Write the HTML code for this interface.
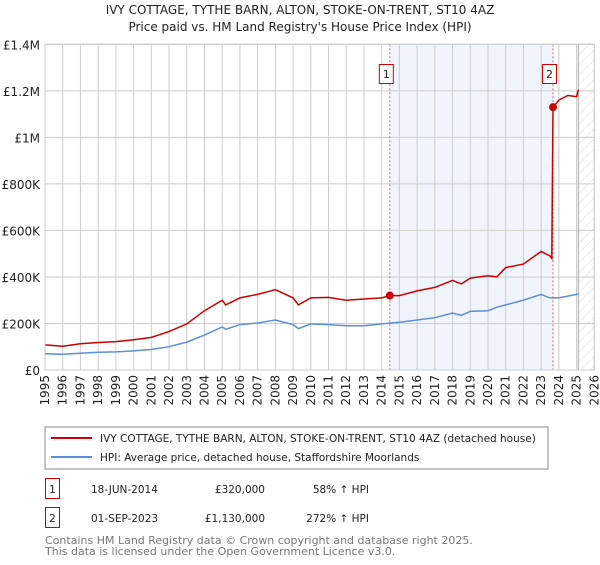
<!DOCTYPE html>
<html><head><meta charset="utf-8"><style>
body{margin:0;background:#fff;font-family:"Liberation Sans","DejaVu Sans",sans-serif;}
svg text{font-family:"DejaVu Sans","Liberation Sans",sans-serif;}
</style></head><body>
<svg id="c" width="600" height="560" xmlns="http://www.w3.org/2000/svg">
<defs><pattern id="hatch" width="7" height="7" patternUnits="userSpaceOnUse" patternTransform="rotate(45)"><line x1="0" y1="0" x2="0" y2="7" stroke="#d4d4d4" stroke-width="0.8"/></pattern></defs>
<text x="300" y="14" text-anchor="middle" font-size="12" fill="#222">IVY COTTAGE, TYTHE BARN, ALTON, STOKE-ON-TRENT, ST10 4AZ</text>
<text x="300" y="31" text-anchor="middle" font-size="12" fill="#222">Price paid vs. HM Land Registry's House Price Index (HPI)</text>
<g id="plot"></g>
<rect x="45" y="427" width="503" height="42" fill="#fff" stroke="#888"/>
<line x1="51" y1="438" x2="92" y2="438" stroke="#cc0000" stroke-width="2"/>
<text x="100" y="442" font-size="10.5" fill="#222">IVY COTTAGE, TYTHE BARN, ALTON, STOKE-ON-TRENT, ST10 4AZ (detached house)</text>
<line x1="51" y1="457" x2="92" y2="457" stroke="#5b8fd6" stroke-width="2"/>
<text x="100" y="461" font-size="10.5" fill="#222">HPI: Average price, detached house, Staffordshire Moorlands</text>
<g>
<rect x="45.5" y="478.5" width="14" height="20" fill="#fff" stroke="#cc0000"/>
<text x="52.5" y="493" text-anchor="middle" font-size="10.5" fill="#222">1</text>
<text x="91" y="493" font-size="10.5" fill="#222">18-JUN-2014</text>
<text x="265" y="493" text-anchor="end" font-size="10.5" fill="#222">£320,000</text>
<text x="369" y="493" text-anchor="end" font-size="10.5" fill="#222">58% ↑ HPI</text>
</g>
<g>
<rect x="45.5" y="507.5" width="14" height="20" fill="#fff" stroke="#cc0000"/>
<text x="52.5" y="522" text-anchor="middle" font-size="10.5" fill="#222">2</text>
<text x="91" y="522" font-size="10.5" fill="#222">01-SEP-2023</text>
<text x="265" y="522" text-anchor="end" font-size="10.5" fill="#222">£1,130,000</text>
<text x="369" y="522" text-anchor="end" font-size="10.5" fill="#222">272% ↑ HPI</text>
</g>
<text x="45" y="544" font-size="11" fill="#777">Contains HM Land Registry data © Crown copyright and database right 2025.</text>
<text x="45" y="555" font-size="11" fill="#777">This data is licensed under the Open Government Licence v3.0.</text>
</svg>
<script>
const hpiYears=[1995,1996,1997,1998,1999,2000,2001,2002,2003,2004,2005,2005.2,2006,2007,2008,2009,2009.3,2010,2011,2012,2013,2014,2015,2016,2017,2018,2018.5,2019,2020,2020.5,2021,2022,2023,2023.5,2024,2025,2025.1];
const hpiValues=[70,68,72,76,78,82,88,100,120,150,185,175,195,202,215,195,178,198,195,190,190,198,205,215,225,245,235,252,255,270,280,300,325,310,310,325,328];
const priceYears=[1995,1996,1997,1998,1999,2000,2001,2002,2003,2004,2005,2005.2,2006,2007,2008,2009,2009.3,2010,2011,2012,2013,2014,2014.46,2015,2016,2017,2018,2018.5,2019,2020,2020.5,2021,2022,2023,2023.5,2023.6,2023.67,2024,2024.5,2025,2025.1];
const priceValues=[108,102,113,118,122,130,140,165,198,255,300,280,310,325,345,310,280,310,312,300,305,310,320,320,340,355,385,370,395,405,400,440,455,510,490,480,1130,1160,1180,1175,1205];
const saleYears=[2014.46,2023.67];
const saleValues=[320,1130];
const saleLabels=["1","2"];
const yTicks=[0,200,400,600,800,1000,1200,1400];
const yTickLabels=["£0","£200K","£400K","£600K","£800K","£1M","£1.2M","£1.4M"];
const xTicks=[1995,1996,1997,1998,1999,2000,2001,2002,2003,2004,2005,2006,2007,2008,2009,2010,2011,2012,2013,2014,2015,2016,2017,2018,2019,2020,2021,2022,2023,2024,2025,2026];

const X0=45,X1=594.3,Y0=370,Y1=44.3;
const xs=y=>X0+(y-1995)/(2026-1995)*(X1-X0);
const ys=v=>Y0-v/1400*(Y0-Y1);
const NS="http://www.w3.org/2000/svg";
const g=document.getElementById('plot');
function mk(t,a){const e=document.createElementNS(NS,t);for(const k in a)e.setAttribute(k,a[k]);g.appendChild(e);return e;}

let r=mk('rect',{x:xs(saleYears[0]),y:Y1,width:xs(saleYears[1])-xs(saleYears[0]),height:Y0-Y1,fill:'#f0f4fc'});


let h=mk('rect',{x:xs(2025.1),y:Y1,width:X1-xs(2025.1),height:Y0-Y1,fill:'url(#hatch)'});


yTicks.forEach((v,i)=>{
 const l=mk('line',{x1:X0,x2:X1,y1:ys(v),y2:ys(v),stroke:'#ccc','stroke-width':1});
 
 
 const t=mk('text',{x:X0-5,y:ys(v)+5,'text-anchor':'end','font-size':12,fill:'#222'});
 t.textContent=yTickLabels[i];
 
 
});
xTicks.forEach(yr=>{
 const l=mk('line',{x1:xs(yr),x2:xs(yr),y1:Y1,y2:Y0,stroke:'#ccc','stroke-width':1});
 
 
 const t=mk('text',{transform:`translate(${xs(yr)+4},${Y0+5}) rotate(-90)`,'text-anchor':'end','font-size':12,fill:'#222'});
 t.textContent=yr;
 
 
});
let v=mk('line',{x1:xs(2025.1),x2:xs(2025.1),y1:Y1,y2:Y0,stroke:'#aaa','stroke-width':1});


saleYears.forEach((yr,i)=>{
 const l=mk('line',{x1:xs(yr),x2:xs(yr),y1:Y1,y2:Y0,stroke:'#e06666','stroke-dasharray':'2,2','stroke-width':1});
 
 
 const b=mk('rect',{x:xs(yr)-10.5,y:64.5,width:14,height:19,fill:'#fff',stroke:'#cc0000'});
 
 
 const t=mk('text',{x:xs(yr)-3.5,y:78,'text-anchor':'middle','font-size':11,fill:'#222'});
 t.textContent=saleLabels[i];
 
 
});
const path=(xa,va)=>xa.map((x,i)=>(i?'L':'M')+xs(x).toFixed(1)+','+ys(va[i]).toFixed(1)).join('');
let hp=mk('path',{d:path(hpiYears,hpiValues),fill:'none',stroke:'#5b8fd6','stroke-width':1.5});


let pp=mk('path',{d:path(priceYears,priceValues),fill:'none',stroke:'#cc0000','stroke-width':1.5});


saleYears.forEach((yr,i)=>{
 const c=mk('circle',{cx:xs(yr),cy:ys(saleValues[i]),r:4,fill:'#cc0000'});
 
 
});
let ax=mk('rect',{x:X0,y:Y1,width:X1-X0,height:Y0-Y1,fill:'none',stroke:'#ccc'});


</script>
</body></html>
